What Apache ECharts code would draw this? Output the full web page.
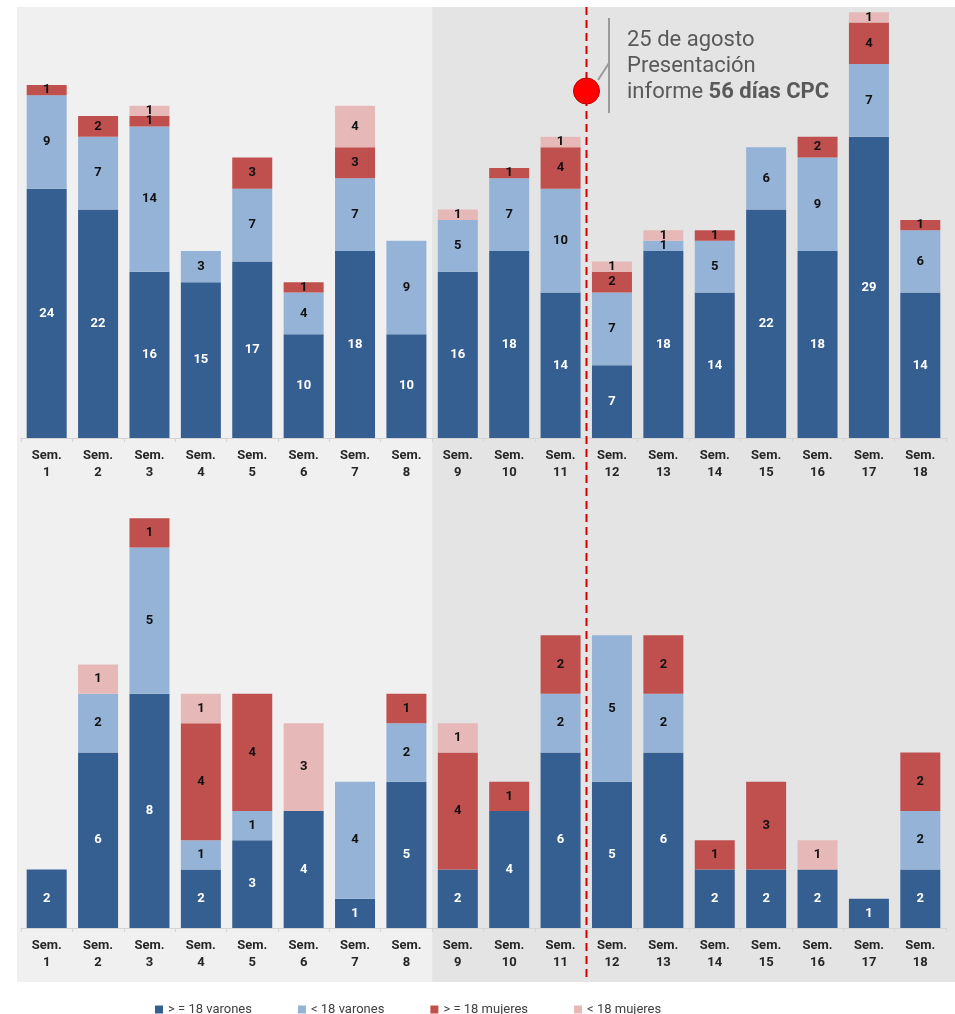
<!DOCTYPE html>
<html>
<head>
<meta charset="utf-8">
<script src="https://cdn.jsdelivr.net/npm/echarts@6/dist/echarts.min.js"></script>
<style>
html, body { margin: 0; padding: 0; background: #fff; }
#chart { width: 955px; height: 1014px; }
</style>
</head>
<body>
<div id="chart"></div>
<script>
const WEEKS = [1, 2, 3, 4, 5, 6, 7, 8, 9, 10, 11, 12, 13, 14, 15, 16, 17, 18];
const SERIES_NAMES = ['> = 18 varones', '< 18 varones', '> = 18 mujeres', '< 18 mujeres'];
const COLORS = ['#355F91', '#95B3D7', '#C0504D', '#E6B9B8'];
const LABEL_COLORS = ['#ffffff', '#111111', '#111111', '#111111'];

// upper chart
const TOP_MEN_ADULT = [24, 22, 16, 15, 17, 10, 18, 10, 16, 18, 14, 7, 18, 14, 22, 18, 29, 14];
const TOP_MEN_MINOR = [9, 7, 14, 3, 7, 4, 7, 9, 5, 7, 10, 7, 1, 5, 6, 9, 7, 6];
const TOP_WOMEN_ADULT = [1, 2, 1, 0, 3, 1, 3, 0, 0, 1, 4, 2, 0, 1, 0, 2, 4, 1];
const TOP_WOMEN_MINOR = [0, 0, 1, 0, 0, 0, 4, 0, 1, 0, 1, 1, 1, 0, 0, 0, 1, 0];

// lower chart
const BOT_MEN_ADULT = [2, 6, 8, 2, 3, 4, 1, 5, 2, 4, 6, 5, 6, 2, 2, 2, 1, 2];
const BOT_MEN_MINOR = [0, 2, 5, 1, 1, 0, 4, 2, 0, 0, 2, 5, 2, 0, 0, 0, 0, 2];
const BOT_WOMEN_ADULT = [0, 0, 1, 4, 4, 0, 0, 1, 4, 1, 2, 0, 2, 1, 3, 0, 0, 2];
const BOT_WOMEN_MINOR = [0, 1, 0, 1, 0, 3, 0, 0, 1, 0, 0, 0, 0, 0, 0, 1, 0, 0];

const FONT = 'Roboto, "Open Sans", sans-serif';
const CATS = WEEKS.map(w => 'Sem.\n' + w);

function xAxis(gridIndex) {
    return {
        type: 'category', gridIndex, data: CATS,
        axisLine: { lineStyle: { color: '#d4d4d4' } },
        axisTick: { show: true, length: 4, lineStyle: { color: '#d4d4d4' } },
        axisLabel: { fontSize: 13, fontWeight: 'bold', color: '#262626', lineHeight: 17, margin: 9, fontFamily: FONT, interval: 0 },
    };
}

function yAxis(gridIndex, max) {
    return { type: 'value', gridIndex, min: 0, max, show: false, splitLine: { show: false } };
}

function barSeries(i, data, idx, stack) {
    return {
        type: 'bar', name: SERIES_NAMES[i], data, stack,
        xAxisIndex: idx, yAxisIndex: idx,
        barWidth: 40,
        itemStyle: { color: COLORS[i] },
        label: {
            show: true, position: 'inside', color: LABEL_COLORS[i],
            fontSize: 13, fontWeight: 'bold', fontFamily: FONT,
            formatter: p => (p.value ? p.value : ''),
        },
    };
}

const chart = echarts.init(document.getElementById('chart'), null, { renderer: 'canvas' });

chart.setOption({
    animation: false,
    textStyle: { fontFamily: FONT },
    grid: [
        { left: 21, right: 9, top: 7, height: 431 },
        { left: 21, right: 9, top: 489, height: 439 },
    ],
    xAxis: [xAxis(0), xAxis(1)],
    yAxis: [yAxis(0, 41.5), yAxis(1, 15)],
    legend: {
        data: SERIES_NAMES, left: 150, top: 998, icon: 'rect', itemWidth: 8, itemHeight: 8, itemGap: 46,
        textStyle: { fontSize: 13, color: '#404040', fontFamily: FONT },
    },
    series: [
        barSeries(0, TOP_MEN_ADULT, 0, 'top'),
        barSeries(1, TOP_MEN_MINOR, 0, 'top'),
        barSeries(2, TOP_WOMEN_ADULT, 0, 'top'),
        barSeries(3, TOP_WOMEN_MINOR, 0, 'top'),
        barSeries(0, BOT_MEN_ADULT, 1, 'bot'),
        barSeries(1, BOT_MEN_MINOR, 1, 'bot'),
        barSeries(2, BOT_WOMEN_ADULT, 1, 'bot'),
        barSeries(3, BOT_WOMEN_MINOR, 1, 'bot'),
    ],
});

// background panels + event marker placed between category bands
const px = c => chart.convertToPixel({ xAxisIndex: 0 }, c);
const split = (px(CATS[7]) + px(CATS[8])) / 2;
const eventX = Math.round((px(CATS[10]) + px(CATS[11])) / 2) + 0.5;

chart.setOption({
    graphic: [
        { type: 'rect', z: -10, shape: { x: 17, y: 7, width: split - 17, height: 975 }, style: { fill: '#f0f0f0' } },
        { type: 'rect', z: -10, shape: { x: split, y: 7, width: 955 - split, height: 975 }, style: { fill: '#e4e4e4' } },
        { type: 'line', z: 50, shape: { x1: eventX, y1: 7, x2: eventX, y2: 982 }, style: { stroke: '#d40000', lineWidth: 2, lineDash: [8, 5] } },
        { type: 'line', z: 50, shape: { x1: 609, y1: 18, x2: 609, y2: 113 }, style: { stroke: '#9a9a9a', lineWidth: 2 } },
        { type: 'line', z: 50, shape: { x1: 598, y1: 80, x2: 609, y2: 63 }, style: { stroke: '#9a9a9a', lineWidth: 2 } },
        { type: 'circle', z: 51, shape: { cx: eventX, cy: 91, r: 13 }, style: { fill: '#ff0000', stroke: '#c00000', lineWidth: 1 } },
        { type: 'text', z: 51, x: 627, y: 40, style: { text: '25 de agosto', fill: '#595959', font: '22px ' + FONT, verticalAlign: 'middle' } },
        { type: 'text', z: 51, x: 627, y: 66, style: { text: 'Presentación', fill: '#595959', font: '22px ' + FONT, verticalAlign: 'middle' } },
        {
            type: 'text', z: 51, x: 627, y: 92,
            style: {
                text: '{n|informe }{b|56 días CPC}', verticalAlign: 'middle',
                rich: {
                    n: { fill: '#595959', fontSize: 22, fontFamily: FONT },
                    b: { fill: '#595959', fontSize: 22, fontWeight: 'bold', fontFamily: FONT },
                },
            },
        },
    ],
});

window.addEventListener('resize', () => chart.resize());
</script>
</body>
</html>
